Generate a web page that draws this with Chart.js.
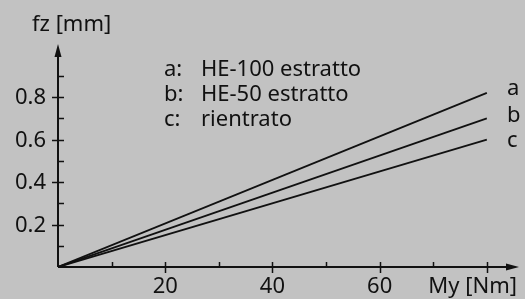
<!DOCTYPE html>
<html>
<head>
<meta charset="utf-8">
<script src="https://cdn.jsdelivr.net/npm/chart.js@4"></script>
<style>
  html, body { margin: 0; padding: 0; background: #c2c2c2; }
  #wrap { width: 525px; height: 299px; }
</style>
</head>
<body>
<div id="wrap"><canvas id="chart" width="525" height="299"></canvas></div>
<script>
// Data
const momentX = [0, 80];          // My [Nm]
const seriesA = [0, 0.82];        // HE-100 estratto
const seriesB = [0, 0.70];        // HE-50 estratto
const seriesC = [0, 0.60];        // rientrato
const seriesKeys = ['a', 'b', 'c'];
const seriesNames = ['HE-100 estratto', 'HE-50 estratto', 'rientrato'];
const xTickLabels = [20, 40, 60];
const yTickLabels = [0.2, 0.4, 0.6, 0.8];
const xMinorTicks = [10, 30, 50, 70];
const yMinorTicks = [0.1, 0.3, 0.5, 0.7, 0.9];

const FONT = '22px "Noto Sans", sans-serif';
const INK = '#111';

function toPoints(ys) {
    return momentX.map((x, i) => ({ x: x, y: ys[i] }));
}

// Draws the arrowed axes, tick marks and all the text
const axesPlugin = {
    id: 'axesPlugin',
    afterDatasetsDraw(chart) {
        const ctx = chart.ctx;
        const xs = chart.scales.x;
        const ys = chart.scales.y;
        const x0 = xs.getPixelForValue(0);
        const y0 = ys.getPixelForValue(0);
        const xEnd = xs.right;
        const yTop = ys.top;

        ctx.save();
        ctx.strokeStyle = INK;
        ctx.fillStyle = INK;
        ctx.lineWidth = 2;

        // axis lines
        ctx.beginPath();
        ctx.moveTo(x0, y0);
        ctx.lineTo(x0, yTop + 8);
        ctx.moveTo(x0, y0);
        ctx.lineTo(xEnd - 8, y0);
        ctx.stroke();

        // arrow heads
        ctx.beginPath();
        ctx.moveTo(x0, yTop);
        ctx.lineTo(x0 - 3.5, yTop + 13);
        ctx.lineTo(x0 + 3.5, yTop + 13);
        ctx.closePath();
        ctx.fill();
        ctx.beginPath();
        ctx.moveTo(xEnd, y0);
        ctx.lineTo(xEnd - 13, y0 - 3.5);
        ctx.lineTo(xEnd - 13, y0 + 3.5);
        ctx.closePath();
        ctx.fill();

        // tick marks
        ctx.lineWidth = 1.5;
        ctx.beginPath();
        yMinorTicks.forEach(v => {
            const p = Math.round(ys.getPixelForValue(v)) + 0.5;
            ctx.moveTo(x0, p); ctx.lineTo(x0 + 6, p);
        });
        yTickLabels.forEach(v => {
            const p = Math.round(ys.getPixelForValue(v)) + 0.5;
            ctx.moveTo(x0 - 6, p); ctx.lineTo(x0 + 6, p);
        });
        xMinorTicks.forEach(v => {
            const p = Math.round(xs.getPixelForValue(v)) + 0.5;
            ctx.moveTo(p, y0); ctx.lineTo(p, y0 - 5);
        });
        xTickLabels.concat([80]).forEach(v => {
            const p = Math.round(xs.getPixelForValue(v)) + 0.5;
            ctx.moveTo(p, y0 - 5); ctx.lineTo(p, y0 + 6);
        });
        ctx.stroke();

        // tick labels
        ctx.font = FONT;
        ctx.textBaseline = 'middle';
        ctx.textAlign = 'right';
        yTickLabels.forEach(v => {
            ctx.fillText(v.toFixed(1), x0 - 12, ys.getPixelForValue(v) + 1);
        });
        ctx.textAlign = 'center';
        xTickLabels.forEach(v => {
            ctx.fillText(String(v), xs.getPixelForValue(v), y0 + 20);
        });

        // axis titles
        ctx.textAlign = 'left';
        ctx.fillText('fz [mm]', 32, 25);
        ctx.textAlign = 'right';
        ctx.fillText('My [Nm]', 517, y0 + 20);

        // series letters at the line ends
        const ends = [seriesA, seriesB, seriesC];
        ctx.textAlign = 'left';
        seriesKeys.forEach((k, i) => {
            const yv = ends[i][ends[i].length - 1];
            const yOff = [-4, -3, 1][i];
            ctx.fillText(k, 507, ys.getPixelForValue(yv) + yOff);
        });

        // legend block
        seriesKeys.forEach((k, i) => {
            const row = 70 + i * 25;
            ctx.fillText(k + ':', 164, row);
            ctx.fillText(seriesNames[i], 201, row);
        });
        ctx.restore();
    }
};

function lineSet(label, ys) {
    return {
        label: label,
        data: toPoints(ys),
        borderColor: INK,
        borderWidth: 1.8,
        pointRadius: 0,
        fill: false,
        tension: 0
    };
}

new Chart(document.getElementById('chart'), {
    type: 'line',
    data: {
        datasets: [
            lineSet(seriesNames[0], seriesA),
            lineSet(seriesNames[1], seriesB),
            lineSet(seriesNames[2], seriesC)
        ]
    },
    options: {
        responsive: false,
        animation: false,
        layout: { padding: { left: 58, right: 6, top: 44, bottom: 32 } },
        plugins: { legend: { display: false }, tooltip: { enabled: false } },
        scales: {
            x: { type: 'linear', min: 0, max: 86, display: false },
            y: { type: 'linear', min: 0, max: 1.05, display: false }
        }
    },
    plugins: [axesPlugin]
});
</script>
</body>
</html>
